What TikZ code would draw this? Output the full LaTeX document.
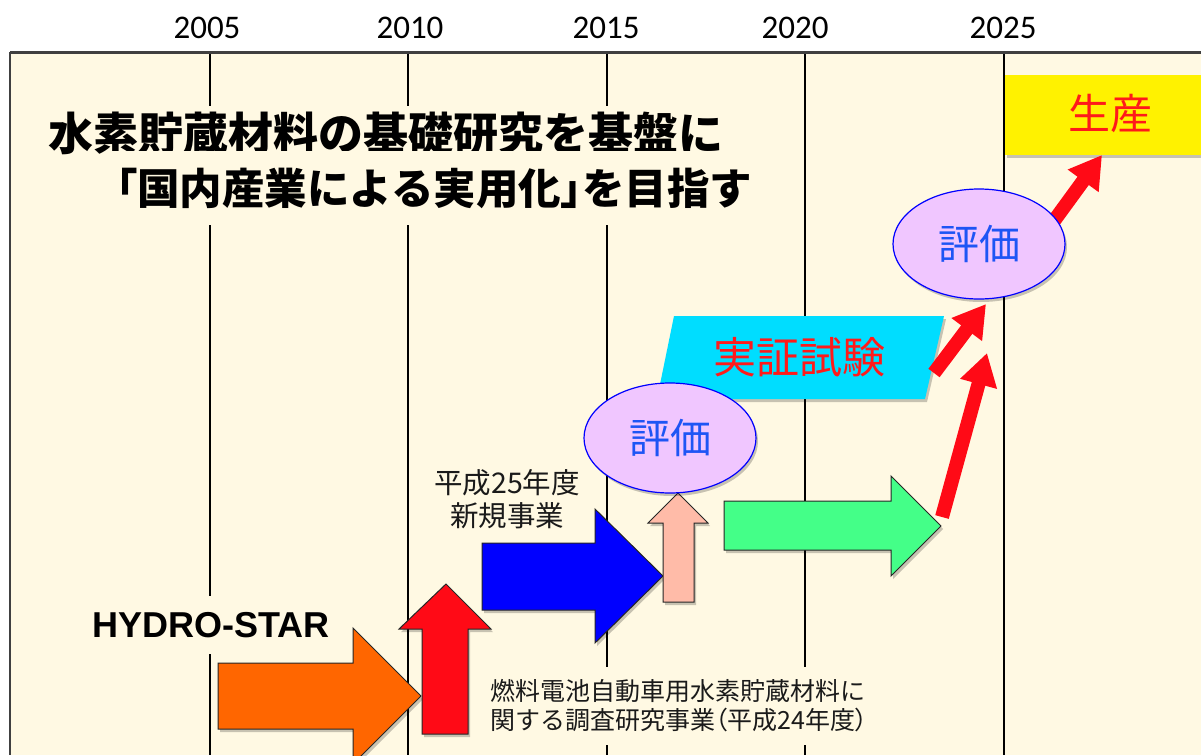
\documentclass[tikz,border=0pt]{standalone}
\usepackage{fontspec}
\setmainfont{Carlito}
\newfontfamily\cjk{Noto Sans CJK JP}
\newfontfamily\cjkp{Noto Sans CJK JP}[RawFeature=+palt]
\newfontfamily\arialb{Liberation Sans}
\usetikzlibrary{arrows.meta,shadows,shapes.geometric}
\definecolor{cream}{HTML}{FFF9E3}
\definecolor{aorange}{HTML}{FF6600}
\definecolor{ared}{HTML}{FF0A16}
\definecolor{ablue}{HTML}{0000FF}
\definecolor{apink}{HTML}{FFBBA8}
\definecolor{agreen}{HTML}{44FF88}
\definecolor{lav}{HTML}{F0C6FF}
\definecolor{acyan}{HTML}{00DDFF}
\definecolor{tblue}{HTML}{1E55F5}
\definecolor{tred}{HTML}{FF1A1A}
\definecolor{tdark}{HTML}{1A1A1A}
\tikzset{
  shad/.style={drop shadow={shadow xshift=2pt,shadow yshift=-3pt,opacity=0.22,fill=black}},
  blockarrow/.style={draw=black!85, line width=1pt, line join=miter, shad},
  gridline/.style={draw=black, line width=2pt},
  yearlabel/.style={font=\fontsize{33}{36}\selectfont, text=black},
  evalnode/.style={ellipse, draw=blue, line width=1.2pt, fill=lav, minimum width=172pt,
    minimum height=110pt, inner sep=0pt, text=tblue, font=\cjk\fontsize{41}{44}\selectfont, shad},
  redarrow/.style={draw=ared, line width=14pt, -{Triangle[length=32pt,width=36pt]}},
  cjktext/.style={fill=cream, text=tdark, inner sep=0pt, align=left},
}
\begin{document}
\begin{tikzpicture}[x=1pt,y=-1pt]
\useasboundingbox (0,0) rectangle (1201,755);
\clip (0,0) rectangle (1201,755);
% background
\fill[white] (0,0) rectangle (1201,755);
\fill[cream] (10,52) rectangle (1201,755);
% grid lines
\foreach \gx in {210,408,607,805,1004} \draw[gridline] (\gx,52) -- (\gx,755);
\draw[draw=black!75, line width=3pt] (10,52) -- (1201,52);
\draw[draw=black!75, line width=2pt] (10,52) -- (10,755);
% year labels
\node[yearlabel] (y2005) at (207,28) {2005};
\node[yearlabel] (y2010) at (410,28) {2010};
\node[yearlabel] (y2015) at (606,28) {2015};
\node[yearlabel] (y2020) at (795,28) {2020};
\node[yearlabel] (y2025) at (1003,28) {2025};
% heading
\node[fill=cream, inner xsep=4pt, inner ysep=0pt, minimum height=56pt, anchor=west,
      font=\cjk\bfseries\fontsize{45}{50}\selectfont] (h1) at (44,134)
  {水素貯蔵材料の基礎研究を基盤に};
\node[fill=cream, inner xsep=4pt, inner ysep=0pt, minimum height=74pt, anchor=west,
      font=\cjk\bfseries\fontsize{42.5}{48}\selectfont] (h2) at (112,188)
  {{\cjkp\bfseries 「}国内産業による実用化{\cjkp\bfseries 」}を目指す};
% HYDRO-STAR
\node[fill=cream, inner xsep=2pt, inner ysep=0pt, minimum height=58pt,
      font=\arialb\bfseries\fontsize{36}{40}\selectfont] (hs) at (211,625) {HYDRO-STAR};
% texts
\node[cjktext, align=center, font=\cjk\fontsize{28.5}{33}\selectfont] (new) at (507,499)
  {平成25年度\\新規事業};
\node[cjktext, anchor=west, minimum height=78pt, font=\cjk\fontsize{25}{29}\selectfont] (survey) at (490,706)
  {燃料電池自動車用水素貯蔵材料に\\関する調査研究事業{\cjkp （}平成24年度{\cjkp ）}};
% block arrows
\filldraw[blockarrow, fill=aorange] (218,663) -- (353,663) -- (353,628) -- (421,696)
  -- (353,764) -- (353,729) -- (218,729) -- cycle;
\filldraw[blockarrow, fill=ared] (446,584) -- (491,629) -- (468,629) -- (468,734)
  -- (422,734) -- (422,629) -- (399,629) -- cycle;
\filldraw[blockarrow, fill=ablue] (482,543) -- (595,543) -- (595,509) -- (663,576)
  -- (595,643) -- (595,610) -- (482,610) -- cycle;
\filldraw[blockarrow, fill=apink] (678,493) -- (708,523) -- (694,523) -- (694,602)
  -- (663,602) -- (663,523) -- (648,523) -- cycle;
\filldraw[blockarrow, fill=agreen] (724,501) -- (891,501) -- (891,476) -- (941,526)
  -- (891,576) -- (891,550) -- (724,550) -- cycle;
% parallelogram
\fill[acyan, shad] (674,316) -- (944,316) -- (925,399) -- (657,399) -- cycle;
\node[text=tred, font=\cjk\fontsize{43}{48}\selectfont] (test) at (799,357) {実証試験};
% yellow box
\node[fill=yellow, minimum width=200pt, minimum height=80pt, anchor=north west, inner sep=0pt,
      shad] (prod) at (1005,75) {};
\node[text=tred, font=\cjk\fontsize{42}{46}\selectfont] (prodt) at (1110,114) {生産};
% red arrows
\coordinate (a1s) at (1040,240);
\coordinate (a1e) at (1102,155);
\coordinate (a2s) at (934,373);
\coordinate (a2e) at (986,304);
\coordinate (a3s) at (942,517);
\coordinate (a3e) at (987,353);
\draw[redarrow] (a1s) -- (a1e);
\draw[redarrow] (a2s) -- (a2e);
\draw[redarrow] (a3s) -- (a3e);
% ellipses
\node[evalnode] (eval1) at (670,438) {評価};
\node[evalnode] (eval2) at (979,244) {評価};
\end{tikzpicture}
\end{document}
